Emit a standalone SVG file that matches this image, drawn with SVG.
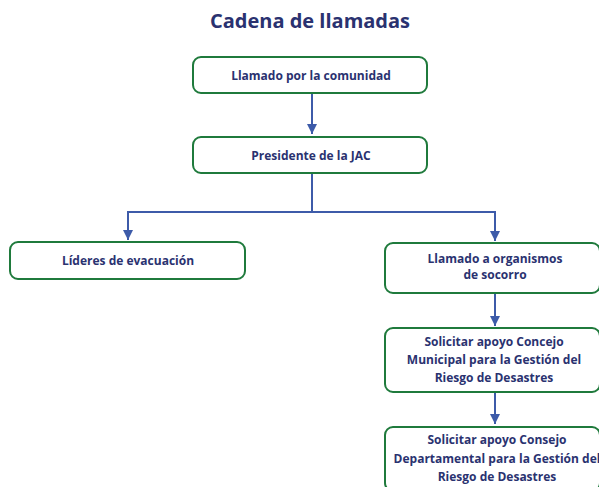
<svg xmlns="http://www.w3.org/2000/svg" width="599" height="487" viewBox="0 0 599 487">
<defs>
<style>
.box{fill:#ffffff;stroke:#1f7a3c;stroke-width:2}
.t{font-family:"Open Sans","Liberation Sans",sans-serif;font-weight:bold;font-size:12px;fill:#2a3270;text-anchor:middle}
.title{font-family:"Open Sans","Liberation Sans",sans-serif;font-weight:bold;font-size:20px;fill:#2a3270;text-anchor:middle}
.c{fill:none;stroke:#3d5ba9;stroke-width:2}
</style>
<marker id="ah" viewBox="0 0 10 10" refX="10" refY="5" markerWidth="5" markerHeight="5" orient="auto" markerUnits="strokeWidth">
<path d="M0,0 L10,5 L0,10 z" fill="#3d5ba9"/>
</marker>
</defs>
<rect width="599" height="487" fill="#ffffff"/>
<text class="title" x="310" y="28">Cadena de llamadas</text>
<g id="connectors">
<path class="c" d="M312,93 V134" marker-end="url(#ah)"/>
<path class="c" d="M312,173 V212 H128 V240" marker-end="url(#ah)"/>
<path class="c" d="M312,212 H495 V241" marker-end="url(#ah)"/>
<path class="c" d="M495,294 V326" marker-end="url(#ah)"/>
<path class="c" d="M495,393 V424" marker-end="url(#ah)"/>
</g>
<g id="n1">
<rect class="box" x="193" y="57" width="234" height="36" rx="8"/>
<text class="t" x="311" y="80">Llamado por la comunidad</text>
</g>
<g id="n2">
<rect class="box" x="193" y="137" width="234" height="36" rx="8"/>
<text class="t" x="311" y="160">Presidente de la JAC</text>
</g>
<g id="n3">
<rect class="box" x="10" y="242" width="235" height="37" rx="8"/>
<text class="t" x="128" y="265">Líderes de evacuación</text>
</g>
<g id="n4">
<rect class="box" x="385" y="243" width="215" height="50" rx="8"/>
<text class="t" x="495" y="263">Llamado a organismos</text>
<text class="t" x="495" y="279">de socorro</text>
</g>
<g id="n5">
<rect class="box" x="385" y="328" width="215" height="64" rx="8"/>
<text class="t" x="494" y="346">Solicitar apoyo Concejo</text>
<text class="t" x="494" y="364">Municipal para la Gestión del</text>
<text class="t" x="494" y="382">Riesgo de Desastres</text>
</g>
<g id="n6">
<rect class="box" x="385" y="427" width="215" height="64" rx="8"/>
<text class="t" x="497" y="444">Solicitar apoyo Consejo</text>
<text class="t" x="497" y="463">Departamental para la Gestión del</text>
<text class="t" x="497" y="481">Riesgo de Desastres</text>
</g>
</svg>
